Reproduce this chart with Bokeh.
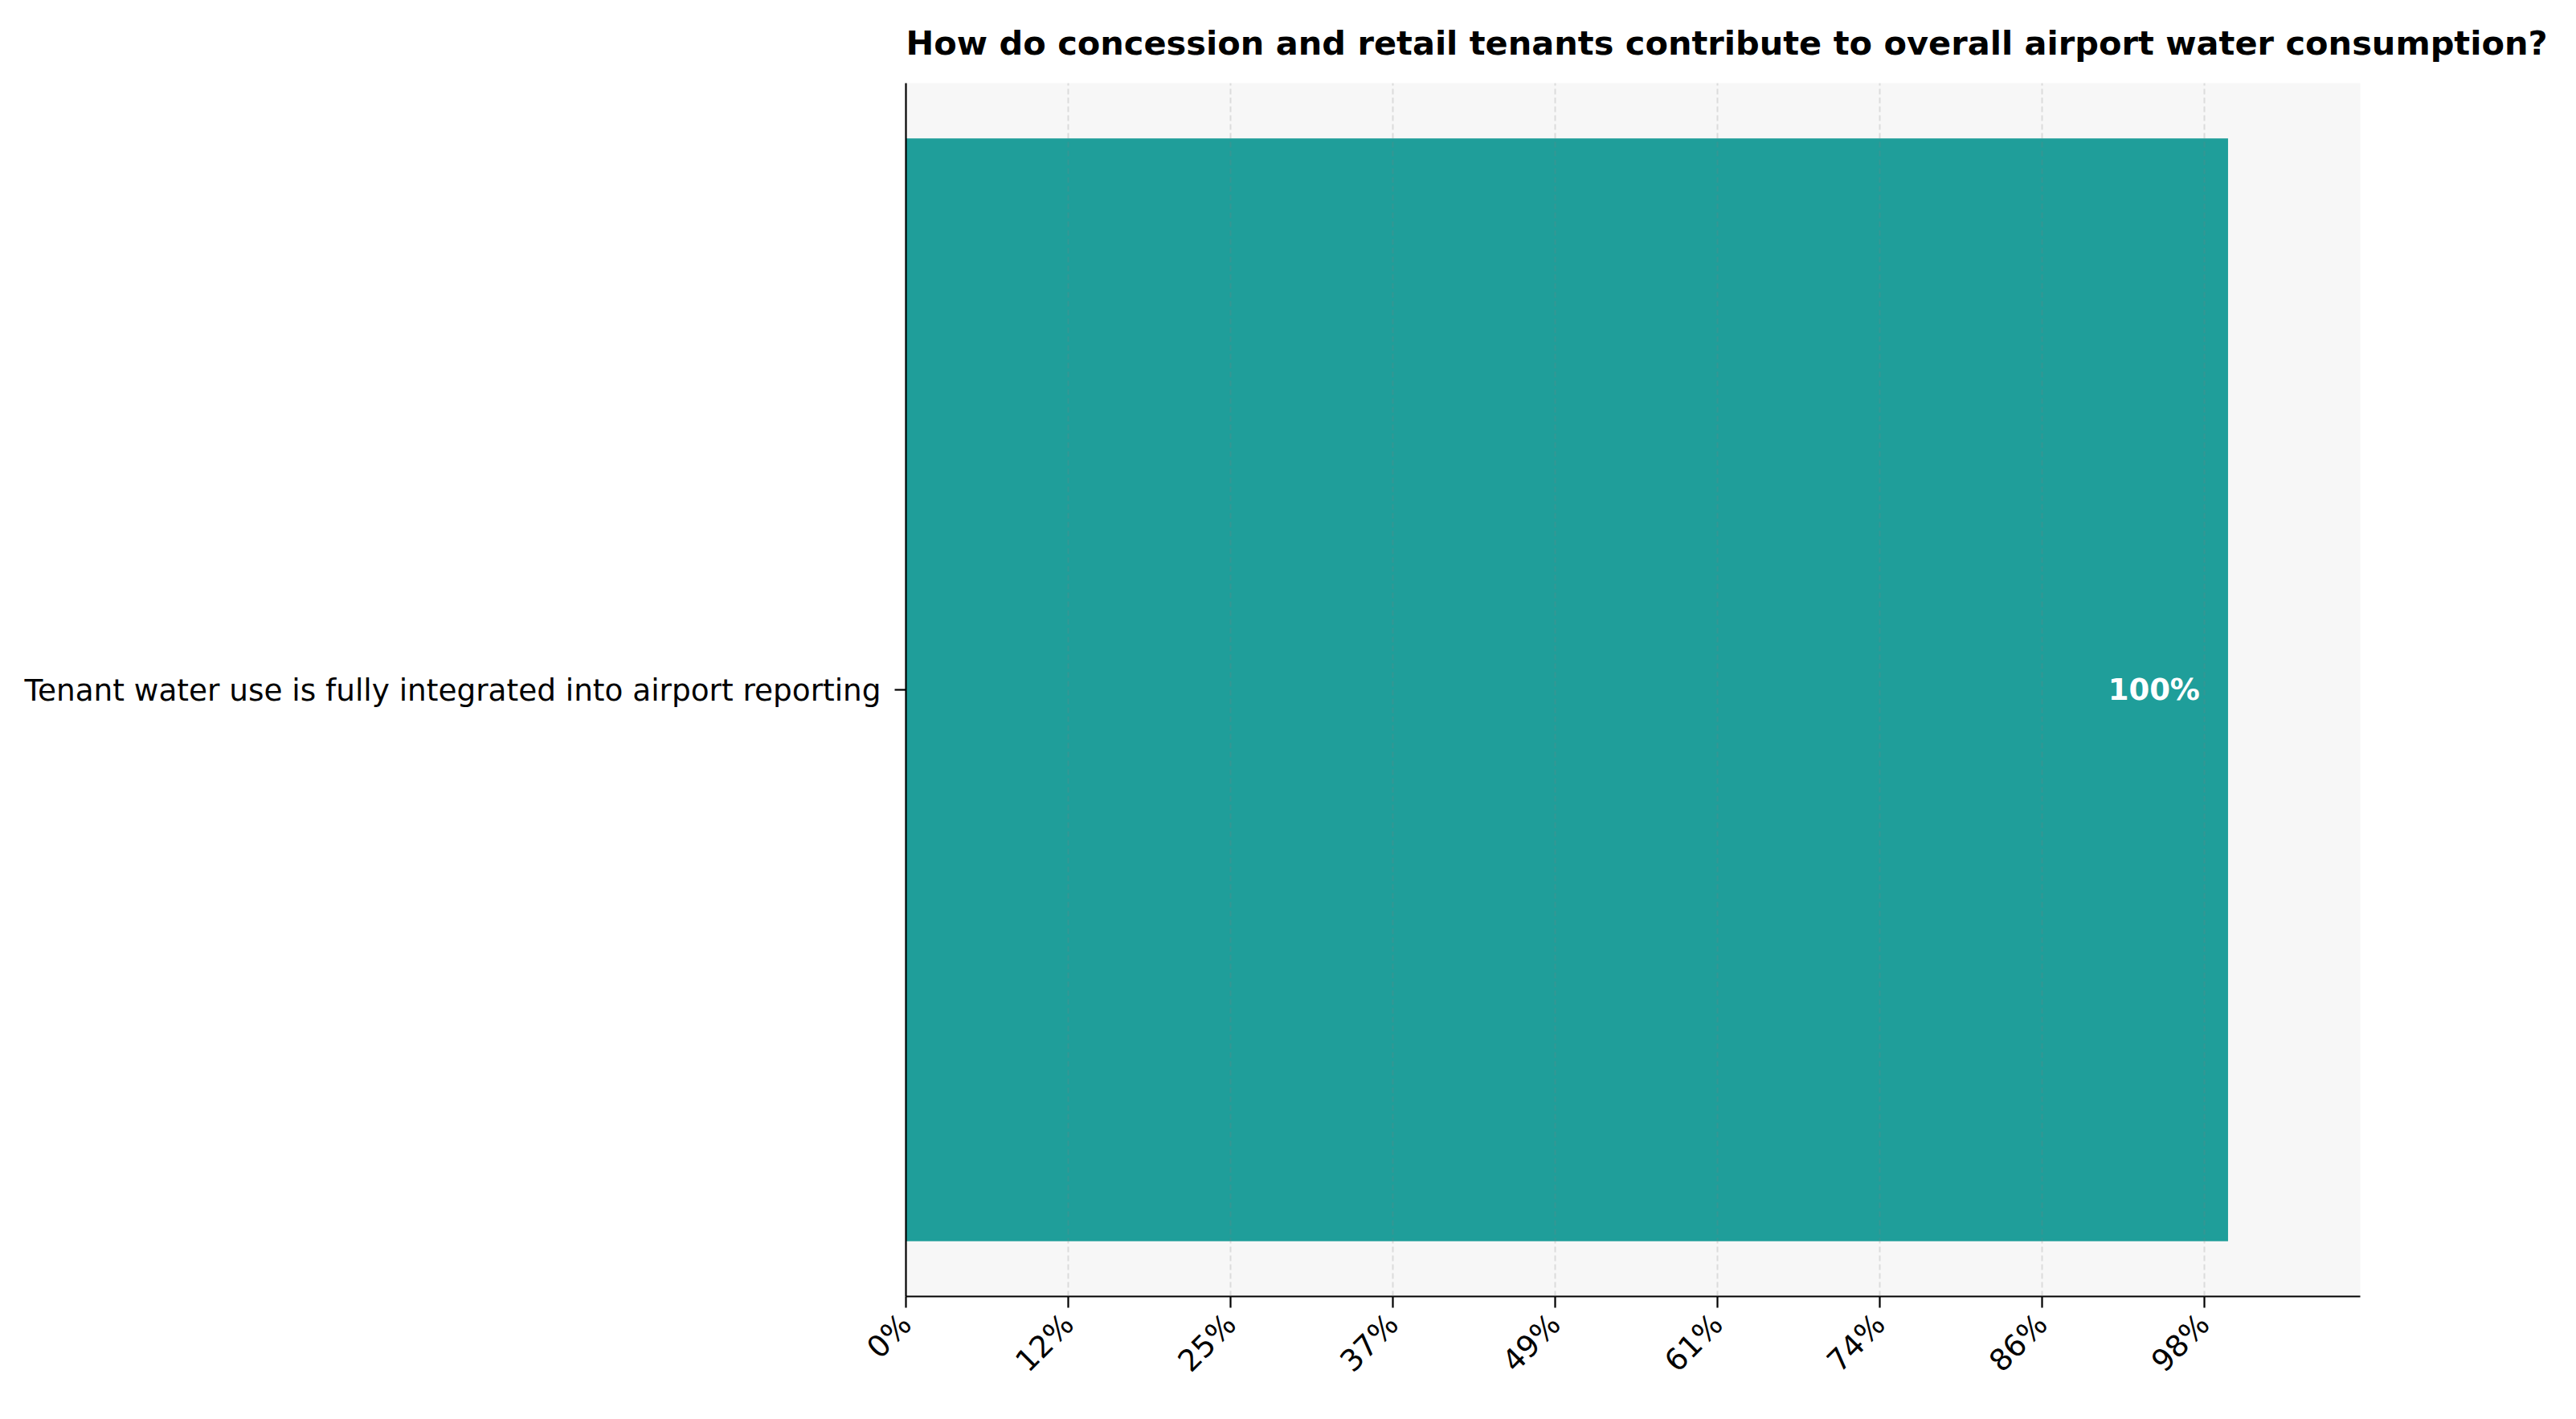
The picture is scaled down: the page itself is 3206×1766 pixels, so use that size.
from bokeh.plotting import figure
from bokeh.models import FixedTicker, Range1d, ColumnDataSource, LabelSet, FactorRange
from bokeh.core.properties import value
from bokeh.embed import file_html
from bokeh.resources import INLINE
import math

# ---- data ----
categories = ["Tenant water use is fully integrated into airport reporting"]
values = [100]
value_labels = ["100%"]
tick_values = [0, 12.27, 24.55, 36.82, 49.09, 61.36, 73.64, 85.91, 98.18]
tick_labels = ["0%", "12%", "25%", "37%", "49%", "61%", "74%", "86%", "98%"]
title_text = "How do concession and retail tenants contribute to overall airport water consumption?"

FONT = "DejaVu Sans"
W, H = 3190, 1750

p = figure(
    width=W, height=H,
    y_range=FactorRange(factors=categories, range_padding=0),
    x_range=Range1d(0, 110),
    output_backend="svg", toolbar_location=None,
    min_border_left=1127, min_border_right=253,
    min_border_top=102, min_border_bottom=137,
)

src = ColumnDataSource(dict(cat=categories, val=values, lab=value_labels))
p.hbar(y="cat", right="val", left=0, height=0.909, source=src,
       fill_color="#1f9e9a", line_color=None)

labels = LabelSet(x="val", y="cat", text="lab", source=src, x_offset=-35,
                  text_align="right", text_baseline="middle",
                  text_color="white", text_font=value(FONT), text_font_style="bold",
                  text_font_size="37px")
p.add_layout(labels)

# background / frame
p.background_fill_color = "#f7f7f7"
p.border_fill_color = "white"
p.outline_line_color = None

# grid
p.ygrid.grid_line_color = None
p.xgrid.grid_line_color = "#808080"
p.xgrid.grid_line_alpha = 0.22
p.xgrid.grid_line_dash = "7 4"
p.xgrid.grid_line_width = 2
p.xgrid.level = "overlay"

# x axis
p.xaxis.ticker = FixedTicker(ticks=tick_values)
p.xaxis.major_label_overrides = {v: l for v, l in zip(tick_values, tick_labels)}
p.xaxis.major_label_orientation = math.pi / 4
p.xaxis.minor_tick_line_color = None
p.xaxis.major_tick_in = 0
p.xaxis.major_tick_out = 14
p.xaxis.major_tick_line_width = 2.2
p.xaxis.axis_line_width = 2.2
p.xaxis.axis_line_color = "black"
p.xaxis.major_label_text_font = FONT
p.xaxis.major_label_text_font_size = "37.4px"
p.xaxis.major_label_text_color = "black"
p.xaxis.major_label_standoff = 14

# y axis
p.yaxis.major_tick_in = 0
p.yaxis.major_tick_out = 14
p.yaxis.major_tick_line_width = 2.2
p.yaxis.axis_line_width = 2.2
p.yaxis.axis_line_color = "black"
p.yaxis.major_label_text_font = FONT
p.yaxis.major_label_text_font_size = "37.4px"
p.yaxis.major_label_text_color = "black"
p.yaxis.major_label_standoff = 17

# title
p.title.text = title_text
p.title.align = "left"
p.title.text_font = FONT
p.title.text_font_style = "bold"
p.title.text_font_size = "41.5px"
p.title.text_color = "black"
p.title.standoff = 52

open("out.html", "w").write(file_html(p, INLINE))
